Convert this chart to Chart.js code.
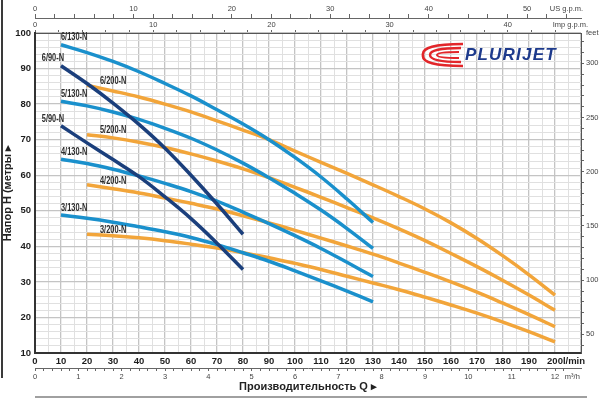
<!DOCTYPE html>
<html>
<head>
<meta charset="utf-8">
<script src="https://cdn.jsdelivr.net/npm/chart.js@4"></script>
<style>
  html, body { margin: 0; padding: 0; background: #fff; }
  #wrap { position: relative; width: 600px; height: 400px; overflow: hidden; }
  #edge { position: absolute; left: 1px; top: 0; width: 2px; height: 378px; background: #3a3a3a; }
  #foot { position: absolute; left: 35px; top: 396px; width: 552px; height: 2px; background: #a0a0a0; }
  #logo { position: absolute; left: 421px; top: 41px; height: 28px; display: flex; align-items: center; }
  #logo span { font: italic bold 17px "Liberation Sans", Arial, sans-serif; color: #1d3a8c; letter-spacing: 1.2px; margin-left: 2px; }
</style>
</head>
<body>
<div id="wrap">
  <canvas id="c" width="600" height="400"></canvas>
  <div id="edge"></div>
  <div id="foot"></div>
  <div id="logo">
    <svg width="42" height="26" viewBox="0 0 42 26">
      <path d="M42 2 Q0 2 2 13 Q0 24 42 24" fill="none" stroke="#e2262a" stroke-width="2.6"/>
      <path d="M40 6 Q9 6 9 13 Q9 20 40 20" fill="none" stroke="#e2262a" stroke-width="2.4"/>
      <path d="M38 10 Q16 10 16 13 Q16 16 38 16" fill="none" stroke="#e2262a" stroke-width="2"/>
    </svg>
    <span>PLURIJET</span>
  </div>
</div>
<script>
// flow in l/min, head in metres
const flow90 = [10, 20, 30, 40, 50, 60, 70, 80];
const flow130 = [10, 20, 30, 40, 50, 60, 70, 80, 90, 100, 110, 120, 130];
const flow200 = [20, 30, 40, 50, 60, 70, 80, 90, 100, 110, 120, 130, 140, 150, 160, 170, 180, 190, 200];

const head6_90 = [90.8, 85.8, 80.3, 74.3, 67.6, 60.0, 51.9, 43.4];
const head5_90 = [73.9, 69.1, 64.4, 59.6, 53.9, 47.8, 40.9, 33.5];

const head6_130 = [96.7, 94.5, 92.0, 89.1, 85.8, 82.3, 78.4, 74.4, 70.0, 65.0, 59.5, 53.3, 46.7];
const head5_130 = [80.8, 79.5, 77.8, 75.7, 73.2, 70.4, 67.1, 63.4, 59.3, 54.9, 50.2, 45.0, 39.4];
const head4_130 = [64.5, 63.3, 61.7, 59.8, 57.7, 55.4, 52.7, 49.6, 46.4, 43.0, 39.4, 35.5, 31.5];
const head3_130 = [48.8, 47.9, 46.8, 45.5, 44.1, 42.5, 40.5, 38.2, 35.8, 33.1, 30.3, 27.4, 24.4];

const head6_200 = [85.3, 83.7, 82.0, 80.0, 77.8, 75.3, 72.7, 70.0, 66.8, 63.6, 60.5, 57.3, 54.0, 50.5, 46.6, 42.2, 37.3, 32.0, 26.3];
const head5_200 = [71.4, 70.5, 69.3, 67.8, 66.0, 64.0, 61.8, 59.3, 56.6, 53.8, 50.9, 48.0, 44.9, 41.6, 38.0, 34.3, 30.4, 26.3, 22.0];
const head4_200 = [57.3, 56.2, 55.0, 53.6, 52.1, 50.5, 48.6, 46.6, 44.5, 42.3, 40.1, 37.8, 35.3, 32.7, 30.0, 27.1, 24.0, 20.8, 17.4];
const head3_200 = [43.4, 43.0, 42.4, 41.6, 40.6, 39.5, 38.2, 36.8, 35.2, 33.5, 31.6, 29.7, 27.8, 25.7, 23.5, 21.2, 18.7, 16.0, 13.1];

const lminLabels = [0, 10, 20, 30, 40, 50, 60, 70, 80, 90, 100, 110, 120, 130, 140, 150, 160, 170, 180, 190, 200];
const m3hLabels = [0, 1, 2, 3, 4, 5, 6, 7, 8, 9, 10, 11, 12];
const usLabels = [0, 10, 20, 30, 40, 50];
const impLabels = [0, 10, 20, 30, 40];
const metreLabels = [10, 20, 30, 40, 50, 60, 70, 80, 90, 100];
const feetLabels = [50, 100, 150, 200, 250, 300];

const Q_MAX = 210;            // l/min at the right frame
const H_MIN = 10, H_MAX = 100;
const FT = 3.28084;

const DARK = '#1b3f7c', BLUE = '#1a90cc', ORANGE = '#f2a53a';
const SANS = "'Liberation Sans', Arial, sans-serif";

const series = [
  { name: '6/90-N', flow: flow90, head: head6_90, color: DARK, side: 'left' },
  { name: '5/90-N', flow: flow90, head: head5_90, color: DARK, side: 'left' },
  { name: '6/130-N', flow: flow130, head: head6_130, color: BLUE, side: 'above' },
  { name: '5/130-N', flow: flow130, head: head5_130, color: BLUE, side: 'above' },
  { name: '4/130-N', flow: flow130, head: head4_130, color: BLUE, side: 'above' },
  { name: '3/130-N', flow: flow130, head: head3_130, color: BLUE, side: 'above' },
  { name: '6/200-N', flow: flow200, head: head6_200, color: ORANGE, side: 'right' },
  { name: '5/200-N', flow: flow200, head: head5_200, color: ORANGE, side: 'right' },
  { name: '4/200-N', flow: flow200, head: head4_200, color: ORANGE, side: 'right' },
  { name: '3/200-N', flow: flow200, head: head3_200, color: ORANGE, side: 'right' }
];

function steps(from, to, step) {
  const out = [];
  for (let v = from; v <= to + 1e-9; v += step) out.push({ value: Math.round(v * 100) / 100 });
  return out;
}
const hasLabel = (arr, v) => arr.some(a => Math.abs(a - v) < 1e-6);
const clear = 'rgba(0,0,0,0)';

// curve names, squeezed like the condensed face of the original
const curveLabels = {
  id: 'curveLabels',
  afterDatasetsDraw(chart) {
    const { ctx, scales: { x, y } } = chart;
    const squeeze = 0.74;
    ctx.save();
    ctx.font = 'bold 10px ' + SANS;
    ctx.fillStyle = '#2b2b2b';
    ctx.textBaseline = 'bottom';
    series.forEach(s => {
      const px = x.getPixelForValue(s.flow[0]);
      const py = y.getPixelForValue(s.head[0]);
      let tx = px, ty = py - 2;
      ctx.textAlign = 'left';
      if (s.side === 'left') { ctx.textAlign = 'right'; tx = px + 3; }
      else if (s.side === 'right') { tx = px + 13; ty = py + 1; }
      ctx.save();
      ctx.translate(tx, ty);
      ctx.scale(squeeze, 1);
      ctx.fillText(s.name, 0, 0);
      ctx.restore();
    });
    ctx.restore();
  }
};

new Chart(document.getElementById('c'), {
  type: 'line',
  data: {
    datasets: series.map(s => ({
      label: s.name,
      data: s.flow.map((q, i) => ({ x: q, y: s.head[i] })),
      borderColor: s.color,
      borderWidth: 3.5,
      pointRadius: 0,
      tension: 0.4,
      fill: false
    }))
  },
  options: {
    responsive: false,
    animation: false,
    devicePixelRatio: 1,
    layout: { padding: 0 },
    plugins: { legend: { display: false }, tooltip: { enabled: false } },
    scales: {
      x: {
        type: 'linear', position: 'bottom', weight: 0, min: 0, max: Q_MAX,
        afterBuildTicks: s => { s.ticks = steps(0, Q_MAX, 5).concat([{ value: 207.3 }]); },
        afterFit: s => { s.height = 15; },
        ticks: {
          autoSkip: false, maxRotation: 0, padding: 3, color: '#1e1e1e',
          font: { family: SANS, size: 9.5, weight: 'bold' },
          callback: v => v === 207.3 ? 'l/min' : (hasLabel(lminLabels, v) ? String(v) : '')
        },
        grid: {
          drawTicks: false,
          color: c => c.tick.value === 207.3 ? clear : (c.tick.value % 10 === 0 ? '#c4c4c4' : '#e0e0e0'),
          lineWidth: c => c.tick.value % 10 === 0 ? 1.3 : 1
        },
        border: { color: '#333', width: 2 }
      },
      xm3: {
        type: 'linear', position: 'bottom', weight: 1, min: 0, max: Q_MAX * 0.06,
        afterBuildTicks: s => { s.ticks = steps(0, 12.4, 0.2); },
        afterFit: s => { s.height = 32; },
        ticks: {
          autoSkip: false, maxRotation: 0, padding: 1, color: '#444',
          font: { family: SANS, size: 7.5 },
          callback: v => v === 12.4 ? 'm³/h' : (hasLabel(m3hLabels, v) ? String(v) : '')
        },
        grid: { drawOnChartArea: false, tickLength: 3, color: c => c.tick.value === 12.4 ? clear : '#666' },
        border: { color: '#666', width: 1 },
        title: {
          display: true, text: 'Производительность Q ▸', color: '#222',
          font: { family: SANS, size: 11, weight: 'bold' },
          padding: { top: 0, bottom: 6 }
        }
      },
      xus: {
        type: 'linear', position: 'top', weight: 1, min: 0, max: Q_MAX / 3.785411784,
        afterBuildTicks: s => { s.ticks = steps(0, 54, 2); },
        afterFit: s => { s.height = 18; },
        ticks: {
          autoSkip: false, maxRotation: 0, padding: 1, color: '#444',
          font: { family: SANS, size: 7.5 },
          callback: v => v === 54 ? 'US g.p.m.' : (hasLabel(usLabels, v) ? String(v) : '')
        },
        grid: { drawOnChartArea: false, tickLength: 4, color: '#666' },
        border: { color: '#666', width: 1 }
      },
      ximp: {
        type: 'linear', position: 'top', weight: 0, min: 0, max: Q_MAX / 4.54609,
        afterBuildTicks: s => { s.ticks = steps(0, 44, 2).concat([{ value: 45.3 }]); },
        afterFit: s => { s.height = 15; },
        ticks: {
          autoSkip: false, maxRotation: 0, padding: 1, color: '#444',
          font: { family: SANS, size: 7.5 },
          callback: v => v === 45.3 ? 'Imp g.p.m.' : (hasLabel(impLabels, v) ? String(v) : '')
        },
        grid: { drawOnChartArea: false, tickLength: 3, color: c => c.tick.value === 45.3 ? clear : '#666' },
        border: { color: '#555', width: 1 }
      },
      y: {
        type: 'linear', position: 'left', min: H_MIN, max: H_MAX,
        afterBuildTicks: s => { s.ticks = steps(H_MIN, H_MAX, 2); },
        afterFit: s => { s.width = 35; },
        ticks: {
          autoSkip: false, padding: 4, color: '#1e1e1e',
          font: { family: SANS, size: 9.5, weight: 'bold' },
          callback: v => hasLabel(metreLabels, v) ? String(v) : ''
        },
        grid: {
          drawTicks: false,
          color: c => c.tick.value % 10 === 0 ? '#c4c4c4' : '#e0e0e0',
          lineWidth: c => c.tick.value % 10 === 0 ? 1.3 : 1
        },
        border: { color: '#333', width: 2 },
        title: {
          display: true, text: 'Напор H (метры ▸', color: '#222',
          font: { family: SANS, size: 11, weight: 'bold' },
          padding: { top: 1, bottom: 0 }
        }
      },
      yft: {
        type: 'linear', position: 'right', min: H_MIN * FT, max: H_MAX * FT,
        afterBuildTicks: s => { s.ticks = steps(40, 320, 10).concat([{ value: H_MAX * FT }]); },
        afterFit: s => { s.width = 19; },
        ticks: {
          autoSkip: false, padding: 2, color: '#444',
          font: { family: SANS, size: 7.5 },
          callback: v => v > 325 ? 'feet' : (hasLabel(feetLabels, v) ? String(v) : '')
        },
        grid: { drawOnChartArea: false, tickLength: 3, color: c => c.tick.value > 325 ? clear : '#666' },
        border: { color: '#555', width: 1 }
      }
    }
  },
  plugins: [curveLabels]
});
</script>
</body>
</html>
